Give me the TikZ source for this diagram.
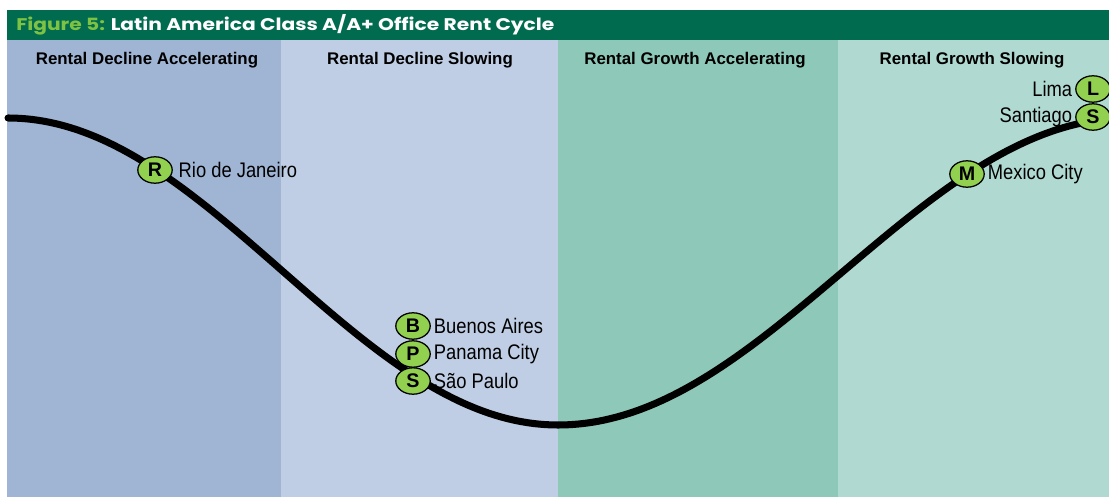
\documentclass[tikz,border=0pt]{standalone}
\usepackage{fontspec}
\setmainfont{Liberation Sans}
\newfontfamily\titlefont[FakeStretch=1.2]{Poppins}
\newfontfamily\cityfont[FakeStretch=0.87]{Liberation Sans}
\usetikzlibrary{positioning, shapes.geometric}

\definecolor{titlebar}{HTML}{006B4F}
\definecolor{figgreen}{HTML}{7DC242}
\definecolor{declinefast}{HTML}{A0B5D4}
\definecolor{declineslow}{HTML}{BFCEE4}
\definecolor{growthfast}{HTML}{8DC8B8}
\definecolor{growthslow}{HTML}{B0DAD1}
\definecolor{markergreen}{HTML}{92D050}

\tikzset{
  phase/.style={font=\bfseries\fontsize{12}{13}\selectfont, inner sep=0pt},
  marker/.style={ellipse, draw, fill=markergreen, line width=0.9pt,
    minimum width=0.86cm, minimum height=0.66cm, inner sep=0pt,
    font=\bfseries\fontsize{14}{14}\selectfont},
  city/.style={font=\cityfont\fontsize{15}{15}\selectfont, inner sep=1pt},
  rentcurve/.style={line width=5pt, line cap=round, line join=round}
}

\begin{document}
\begin{tikzpicture}[x=0.025cm, y=-0.025cm]
  \useasboundingbox (0,0) rectangle (1109,497);

  % header bar
  \fill[titlebar] (7,10) rectangle (1109,40);
  \node[anchor=west, inner sep=0pt, text=white,
    font=\titlefont\bfseries\fontsize{12}{13}\selectfont] (title) at (16,25)
    {\textcolor{figgreen}{Figure 5:} Latin America Class A/A+ Office Rent Cycle};

  % the four phases
  \fill[declinefast] (7,40) rectangle (281,497);
  \fill[declineslow] (281,40) rectangle (558,497);
  \fill[growthfast] (558,40) rectangle (838,497);
  \fill[growthslow] (838,40) rectangle (1109,497);
  \node[phase] (p1) at (147,60) {Rental Decline Accelerating};
  \node[phase] (p2) at (420,60) {Rental Decline Slowing};
  \node[phase] (p3) at (695,60) {Rental Growth Accelerating};
  \node[phase] (p4) at (972,60) {Rental Growth Slowing};

  % rent cycle: falling half, then rising half
  \draw[rentcurve]
    plot[domain=8:558, samples=80, smooth]
      (\x, {271.5 - 153.5*cos((\x-8)/550*180)})
    -- plot[domain=558:1100, samples=80, smooth]
      (\x, {271.5 + 153.5*cos((\x-558)/570*180)});

  % cities
  \node[marker] (rio) at (155,170) {R};
  \node[city, right=3pt of rio] (rioname) {Rio de Janeiro};
  \node[marker] (ba) at (413,326) {B};
  \node[city, right=1pt of ba] (baname) {Buenos Aires};
  \node[marker] (pan) at (413,354) {P};
  \node[city, right=1pt of pan] (panname) {Panama City};
  \node[marker] (sp) at (413,381) {S};
  \node[city, right=1pt of sp] (spname) {São Paulo};
  \node[marker] (mex) at (967,174) {M};
  \node[city, right=1pt of mex] (mexname) {Mexico City};
  \node[marker] (lima) at (1093,89) {L};
  \node[city, left=1pt of lima] (limaname) {Lima};
  \node[marker] (stgo) at (1093,117) {S};
  \node[city, left=1pt of stgo] (stgoname) {Santiago};
\end{tikzpicture}
\end{document}
